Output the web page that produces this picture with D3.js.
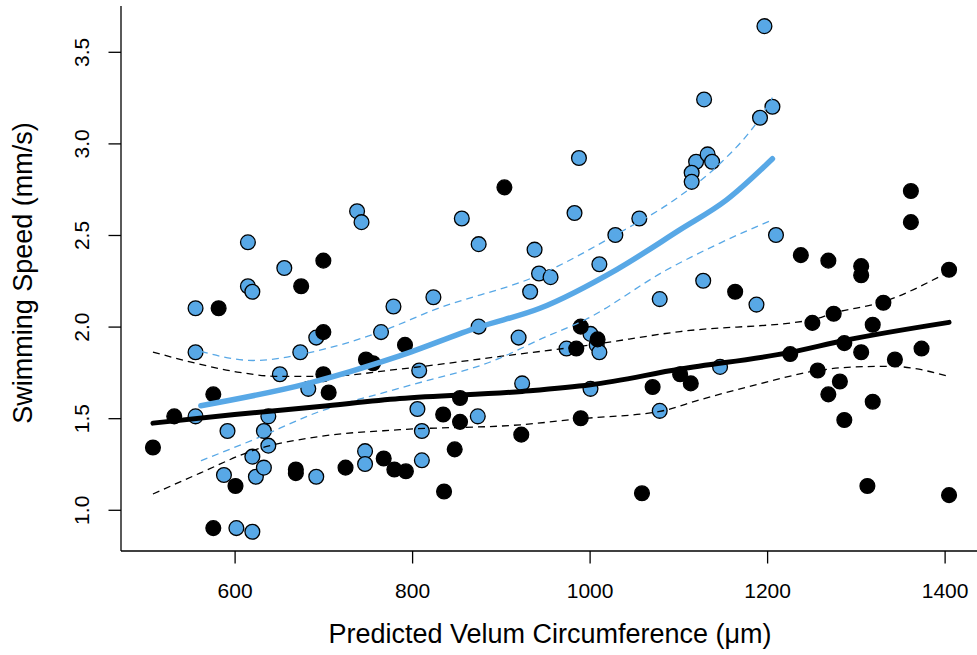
<!DOCTYPE html>
<html>
<head>
<meta charset="utf-8">
<script src="https://cdn.jsdelivr.net/npm/d3@7"></script>
<style>
  html, body { margin: 0; padding: 0; background: #fff; }
  svg { display: block; }
  text { font-family: "Liberation Sans", Arial, Helvetica, sans-serif; fill: #000; }
</style>
</head>
<body>
<svg id="chart" width="977" height="655"></svg>
<script>
// ---- Data ----
const xTicks = [600, 800, 1000, 1200, 1400];
const yTicks = [1.0, 1.5, 2.0, 2.5, 3.0, 3.5];
const xTitle = "Predicted Velum Circumference (\u03BCm)";
const yTitle = "Swimming Speed (mm/s)";

const blueX = [556, 556, 556, 615, 615, 620, 656, 592, 588, 602, 620, 624, 620, 633, 638, 638, 633,
  651, 674, 683, 692, 692, 738, 743, 765, 779, 747, 747, 806, 808, 811, 811, 824, 856, 875, 875, 874,
  920, 924, 933, 938, 943, 956, 983, 988, 974, 1001, 1008, 1011, 1001, 1011, 1029, 1056, 1079, 1079,
  1128, 1129, 1120, 1115, 1115, 1133, 1138, 1147, 1188, 1192, 1206, 1197, 1210];
const blueY = [2.10, 1.86, 1.51, 2.46, 2.22, 2.19, 2.32, 1.43, 1.19, 0.90, 0.88, 1.18, 1.29, 1.43, 1.51, 1.35, 1.23,
  1.74, 1.86, 1.66, 1.94, 1.18, 2.63, 2.57, 1.97, 2.11, 1.32, 1.25, 1.55, 1.76, 1.43, 1.27, 2.16, 2.59, 2.45, 2.00, 1.51,
  1.94, 1.69, 2.19, 2.42, 2.29, 2.27, 2.62, 2.92, 1.88, 1.96, 1.90, 1.86, 1.66, 2.34, 2.50, 2.59, 2.15, 1.54,
  2.25, 3.24, 2.90, 2.84, 2.79, 2.94, 2.90, 1.78, 2.12, 3.14, 3.20, 3.64, 2.50];

const blackX = [508, 532, 576, 582, 576, 601, 669, 669, 675, 700, 700, 700, 706, 725, 748, 756, 768, 780, 793, 792,
  835, 836, 848, 854, 854, 904, 923, 985, 990, 1009, 990, 1059, 1071, 1102, 1114, 1164, 1226, 1238, 1251, 1257,
  1269, 1269, 1275, 1282, 1287, 1287, 1306, 1306, 1306, 1313, 1319, 1319, 1331, 1344, 1362, 1362, 1374, 1405, 1405];
const blackY = [1.34, 1.51, 1.63, 2.10, 0.90, 1.13, 1.22, 1.20, 2.22, 2.36, 1.97, 1.74, 1.64, 1.23, 1.82, 1.80, 1.28, 1.22, 1.21, 1.90,
  1.52, 1.10, 1.33, 1.61, 1.48, 2.76, 1.41, 1.88, 2.00, 1.93, 1.50, 1.09, 1.67, 1.74, 1.69, 2.19, 1.85, 2.39, 2.02, 1.76,
  2.36, 1.63, 2.07, 1.70, 1.91, 1.49, 2.33, 2.28, 1.86, 1.13, 2.01, 1.59, 2.13, 1.82, 2.74, 2.57, 1.88, 2.31, 1.08];

// smooth fits
const blackFitX = [508, 600, 696, 786, 924, 1001, 1102, 1226, 1287, 1405];
const blackFitY = [1.473, 1.52, 1.564, 1.607, 1.646, 1.682, 1.768, 1.859, 1.924, 2.023];
const blackUpX = [508, 556, 603, 651, 700, 786, 899, 1001, 1102, 1251, 1275, 1330, 1405];
const blackUpY = [1.861, 1.80, 1.752, 1.728, 1.728, 1.768, 1.837, 1.90, 1.973, 2.037, 2.074, 2.134, 2.30];
const blackLoX = [508, 561, 621, 696, 786, 922, 990, 1079, 1124, 1188, 1257, 1300, 1340, 1405];
const blackLoY = [1.086, 1.20, 1.324, 1.40, 1.437, 1.464, 1.497, 1.537, 1.60, 1.683, 1.76, 1.78, 1.783, 1.728];

const blueFitX = [562, 683, 786, 875, 944, 1030, 1102, 1154, 1206];
const blueFitY = [1.568, 1.69, 1.84, 1.997, 2.10, 2.31, 2.529, 2.69, 2.916];
const blueUpX = [562, 621, 683, 765, 824, 947, 1029, 1101, 1147, 1192, 1206];
const blueUpY = [1.864, 1.815, 1.857, 1.973, 2.09, 2.29, 2.50, 2.71, 2.89, 3.14, 3.25];
const blueLoX = [562, 621, 696, 786, 899, 944, 996, 1087, 1147, 1206];
const blueLoY = [1.268, 1.382, 1.537, 1.664, 1.828, 1.93, 2.04, 2.31, 2.456, 2.583];

// ---- Layout ----
const plotL = 121, plotR = 981, plotT = 6, plotB = 551;
const blue = "#58A8E6";

const svg = d3.select("#chart");
const x = d3.scaleLinear().domain([472, 1441]).range([plotL, plotR]);
const y = d3.scaleLinear().domain([0.775, 3.75]).range([plotB, plotT]);

const zip = (a, b) => a.map((v, i) => [v, b[i]]);

// points
const gPts = svg.append("g");
gPts.selectAll("circle.b").data(zip(blueX, blueY)).join("circle")
  .attr("class", "b")
  .attr("cx", d => x(d[0])).attr("cy", d => y(d[1])).attr("r", 7.4)
  .attr("fill", blue).attr("stroke", "#000").attr("stroke-width", 1.3);
gPts.selectAll("circle.k").data(zip(blackX, blackY)).join("circle")
  .attr("class", "k")
  .attr("cx", d => x(d[0])).attr("cy", d => y(d[1])).attr("r", 7.4)
  .attr("fill", "#000").attr("stroke", "#000").attr("stroke-width", 1.3);

// lines
const line = d3.line().x(d => x(d[0])).y(d => y(d[1])).curve(d3.curveMonotoneX);
function drawLine(xs, ys, color, w, dash) {
  svg.append("path").datum(zip(xs, ys)).attr("d", line)
    .attr("fill", "none").attr("stroke", color).attr("stroke-width", w)
    .attr("stroke-linecap", dash ? "butt" : "round")
    .attr("stroke-dasharray", dash || null);
}
drawLine(blackUpX, blackUpY, "#000", 1.3, "7,5");
drawLine(blackLoX, blackLoY, "#000", 1.3, "7,5");
drawLine(blueUpX, blueUpY, blue, 1.3, "7,5");
drawLine(blueLoX, blueLoY, blue, 1.3, "7,5");
drawLine(blackFitX, blackFitY, "#000", 5, null);
drawLine(blueFitX, blueFitY, blue, 5.5, null);

// axes (L-shaped box)
const axG = svg.append("g").attr("stroke", "#000").attr("stroke-width", 1.3);
axG.append("line").attr("x1", plotL).attr("x2", plotL).attr("y1", plotT).attr("y2", plotB);
axG.append("line").attr("x1", plotL).attr("x2", plotR).attr("y1", plotB).attr("y2", plotB);

const xAxis = d3.axisBottom(x).tickValues(xTicks).tickFormat(d3.format("d")).tickSize(12.5).tickPadding(20);
const gx = svg.append("g").attr("transform", `translate(0,${plotB})`).call(xAxis);
gx.select(".domain").remove();
gx.selectAll("line").attr("stroke", "#000").attr("stroke-width", 1.3);
gx.selectAll("text").attr("font-size", 21).attr("font-family", "Liberation Sans, Arial, sans-serif");

const yAxis = d3.axisLeft(y).tickValues(yTicks).tickFormat(d3.format(".1f")).tickSize(12.5).tickPadding(0);
const gy = svg.append("g").attr("transform", `translate(${plotL},0)`).call(yAxis);
gy.select(".domain").remove();
gy.selectAll("line").attr("stroke", "#000").attr("stroke-width", 1.3);
gy.selectAll("text")
  .attr("font-size", 21).attr("font-family", "Liberation Sans, Arial, sans-serif")
  .attr("x", 0).attr("dy", null)
  .attr("text-anchor", "middle")
  .attr("transform", function(d) { return `translate(${89 - plotL},${0}) rotate(-90)`; })
  .attr("y", 0);

// axis titles
svg.append("text").attr("x", 550).attr("y", 643).attr("text-anchor", "middle")
  .attr("font-size", 27).text(xTitle);
svg.append("text").attr("transform", "translate(32,273) rotate(-90)").attr("text-anchor", "middle")
  .attr("font-size", 27).text(yTitle);
</script>
</body>
</html>
